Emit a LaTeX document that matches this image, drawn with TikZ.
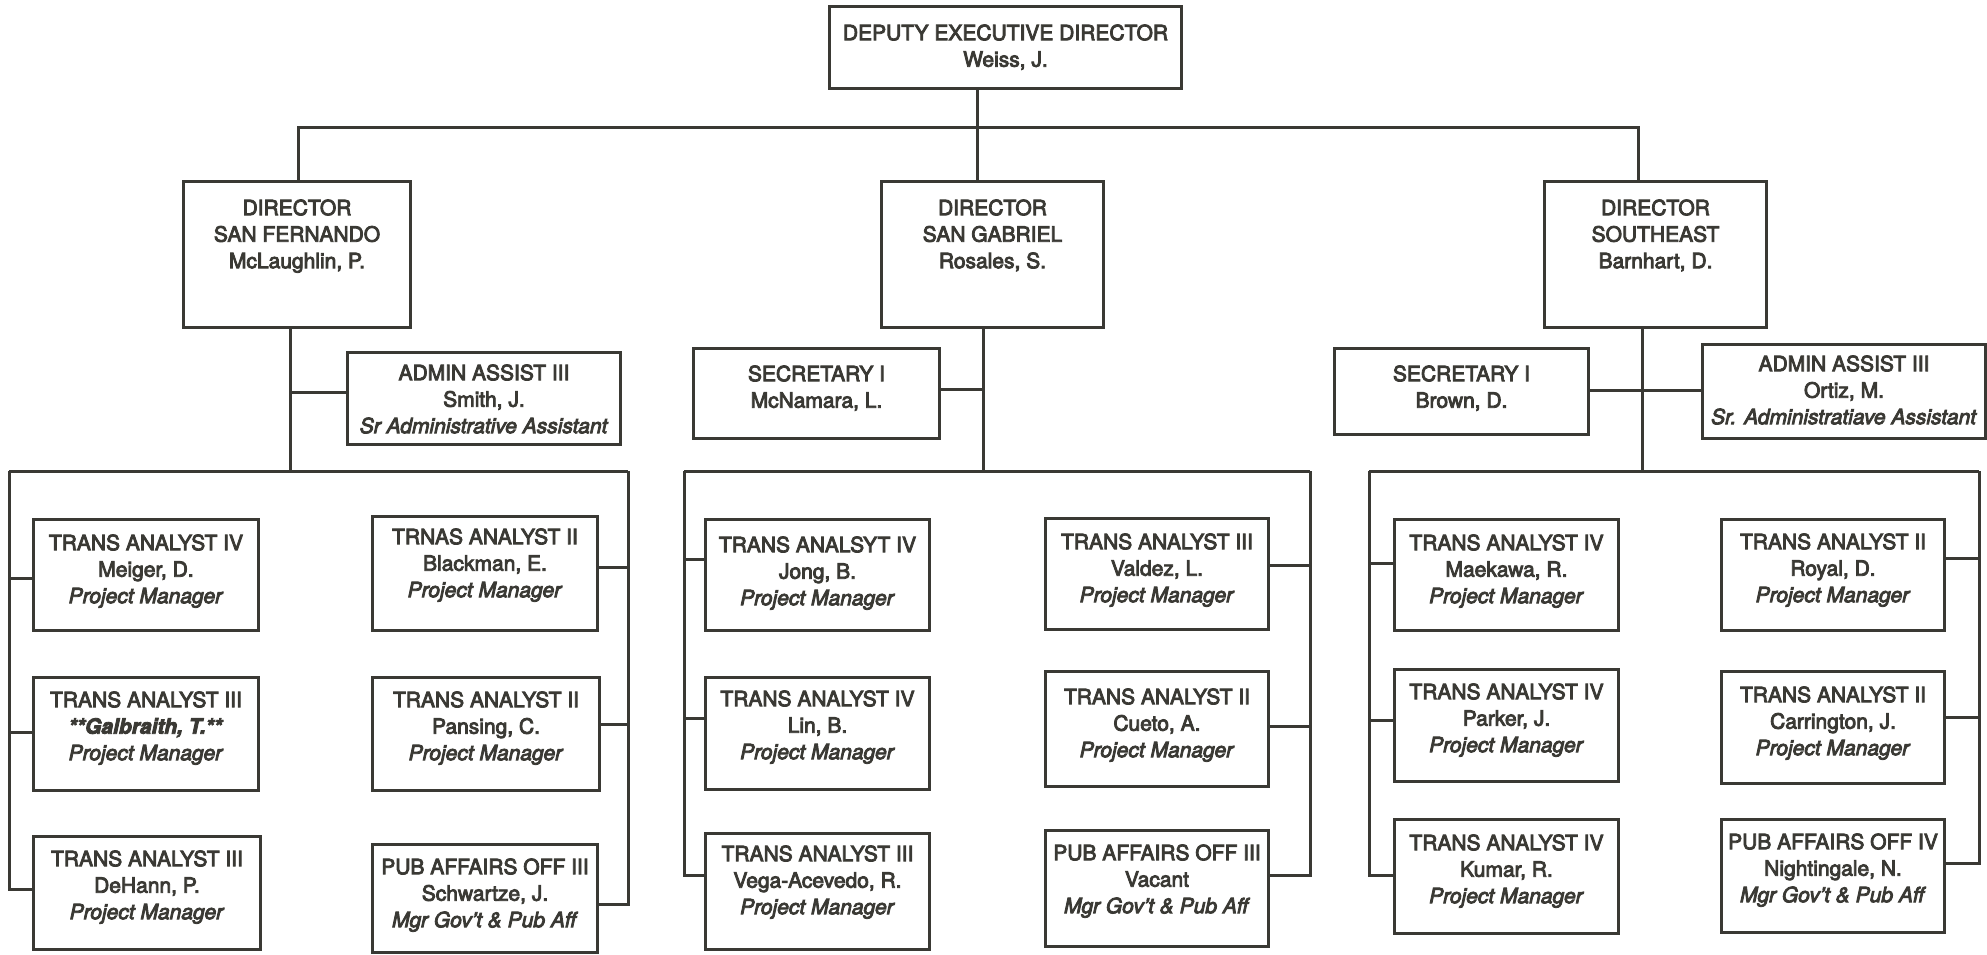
\documentclass[tikz,border=0pt]{standalone}
\usepackage{fontspec}
\setmainfont{TeX Gyre Heros}[FakeBold=4]
\usetikzlibrary{positioning,calc}
\definecolor{ink}{HTML}{3A3934}
\newcommand{\card}[4]{\parbox[c][#2][t]{#1}{\centering\vspace*{#3}#4\par}}
\tikzset{post/.style={draw=ink, line width=3pt, inner sep=0pt, anchor=north west, text=ink, font=\fontsize{21}{26.5}\selectfont},
         wire/.style={draw=ink, line width=3pt}}

\begin{document}
\begin{tikzpicture}[x=1pt,y=-1pt]
\useasboundingbox (0,0) rectangle (1987,954);

\node[post] (dep) at (828,5) {\card{352pt}{82pt}{18pt}{DEPUTY EXECUTIVE DIRECTOR\\Weiss, J.}};

\node[post] (sf) at (182,180) {\card{227pt}{146pt}{18pt}{DIRECTOR\\SAN FERNANDO\\McLaughlin, P.}};
\node[post] (sg) at (880,180) {\card{222pt}{146pt}{18pt}{DIRECTOR\\SAN GABRIEL\\Rosales, S.}};
\node[post] (se) at (1543,180) {\card{222pt}{146pt}{18pt}{DIRECTOR\\SOUTHEAST\\Barnhart, D.}};

\node[post] (smith) at (346,351) {\card{273pt}{92pt}{12pt}{ADMIN ASSIST III\\Smith, J.\\\textit{Sr Administrative Assistant}}};
\node[post] (mcnamara) at (692,347) {\card{246pt}{90pt}{17pt}{SECRETARY I\\McNamara, L.}};
\node[post] (brown) at (1333,347) {\card{254pt}{86pt}{17pt}{SECRETARY I\\Brown, D.}};
\node[post] (ortiz) at (1701,343) {\card{283pt}{94pt}{11pt}{ADMIN ASSIST III\\Ortiz, M.\\\textit{Sr. Administratiave Assistant}}};

% san fernando
\node[post] (meiger) at (32,518) {\card{225pt}{111pt}{15pt}{TRANS ANALYST IV\\Meiger, D.\\\textit{Project Manager}}};
\node[post] (galbraith) at (32,676) {\card{225pt}{113pt}{14pt}{TRANS ANALYST III\\\textbf{\textit{**Galbraith, T.**}}\\\textit{Project Manager}}};
\node[post] (dehann) at (32,835) {\card{227pt}{113pt}{14pt}{TRANS ANALYST III\\DeHann, P.\\\textit{Project Manager}}};
\node[post] (blackman) at (371,515) {\card{225pt}{114pt}{12pt}{TRNAS ANALYST II\\Blackman, E.\\\textit{Project Manager}}};
\node[post] (pansing) at (371,676) {\card{227pt}{113pt}{14pt}{TRANS ANALYST II\\Pansing, C.\\\textit{Project Manager}}};
\node[post] (schwartze) at (371,843) {\card{225pt}{108pt}{14pt}{PUB AFFAIRS OFF III\\Schwartze, J.\\\textit{Mgr Gov't \& Pub Aff}}};

% san gabriel
\node[post] (jong) at (704,518) {\card{224pt}{111pt}{17pt}{TRANS ANALSYT IV\\Jong, B.\\\textit{Project Manager}}};
\node[post] (lin) at (704,676) {\card{224pt}{112pt}{13pt}{TRANS ANALYST IV\\Lin, B.\\\textit{Project Manager}}};
\node[post] (vega) at (704,832) {\card{224pt}{116pt}{12pt}{TRANS ANALYST III\\Vega-Acevedo, R.\\\textit{Project Manager}}};
\node[post] (valdez) at (1044,517) {\card{223pt}{111pt}{15pt}{TRANS ANALYST III\\Valdez, L.\\\textit{Project Manager}}};
\node[post] (cueto) at (1044,670) {\card{223pt}{115pt}{17pt}{TRANS ANALYST II\\Cueto, A.\\\textit{Project Manager}}};
\node[post] (vacant) at (1044,829) {\card{223pt}{116pt}{14pt}{PUB AFFAIRS OFF III\\Vacant\\\textit{Mgr Gov't \& Pub Aff}}};

% southeast
\node[post] (maekawa) at (1393,518) {\card{224pt}{111pt}{15pt}{TRANS ANALYST IV\\Maekawa, R.\\\textit{Project Manager}}};
\node[post] (parker) at (1393,668) {\card{224pt}{112pt}{14pt}{TRANS ANALYST IV\\Parker, J.\\\textit{Project Manager}}};
\node[post] (kumar) at (1393,818) {\card{224pt}{114pt}{15pt}{TRANS ANALYST IV\\Kumar, R.\\\textit{Project Manager}}};
\node[post] (royal) at (1720,518) {\card{223pt}{111pt}{14pt}{TRANS ANALYST II\\Royal, D.\\\textit{Project Manager}}};
\node[post] (carrington) at (1720,670) {\card{223pt}{112pt}{15pt}{TRANS ANALYST II\\Carrington, J.\\\textit{Project Manager}}};
\node[post] (nightingale) at (1720,818) {\card{223pt}{113pt}{14pt}{PUB AFFAIRS OFF IV\\Nightingale, N.\\\textit{Mgr Gov't \& Pub Aff}}};

\coordinate (bus0l) at (298,127);
\coordinate (bus0m) at (977,127);
\coordinate (bus0r) at (1638,127);
\draw[wire] (dep.south -| bus0m) -- (sg.north -| bus0m);
\draw[wire] (sf.north -| bus0l) |- (bus0r) -- (se.north -| bus0r);

\coordinate (sfs) at (290,471);
\coordinate (sfl) at (9,471);
\coordinate (sfr) at (628,471);
\draw[wire] (sf.south -| sfs) -- (sfs);
\draw[wire] ([yshift=6pt]smith.west -| sfs) -- ([yshift=6pt]smith.west);
\draw[wire] (sfl) -- (sfr);
\draw[wire] (sfl) |- ([yshift=3.5pt]dehann.west);
\draw[wire] (sfr) |- ([yshift=-6pt]schwartze.east);
\foreach \n/\d in {meiger/-3.5,galbraith/1.5}
         \draw[wire] ([yshift=\d pt]\n.west -| sfl) -- ([yshift=\d pt]\n.west);
\foreach \n/\d in {blackman/6,pansing/9.5}
         \draw[wire] ([yshift=\d pt]\n.east -| sfr) -- ([yshift=\d pt]\n.east);

\coordinate (sgs) at (983,471);
\coordinate (sgl) at (684,471);
\coordinate (sgr) at (1310,471);
\draw[wire] (sg.south -| sgs) -- (sgs);
\draw[wire] ([yshift=4pt]mcnamara.east) -- ([yshift=4pt]mcnamara.east -| sgs);
\draw[wire] (sgl) -- (sgr);
\draw[wire] (sgl) |- ([yshift=16pt]vega.west);
\draw[wire] (sgr) |- ([yshift=13pt]vacant.east);
\foreach \n/\d in {jong/15.5,lin/15}
         \draw[wire] ([yshift=\d pt]\n.west -| sgl) -- ([yshift=\d pt]\n.west);
\foreach \n/\d in {valdez/8.5,cueto/2.5}
         \draw[wire] ([yshift=\d pt]\n.east -| sgr) -- ([yshift=\d pt]\n.east);

\coordinate (ses) at (1642,471);
\coordinate (sel) at (1369,471);
\coordinate (ser) at (1979,471);
\draw[wire] (se.south -| ses) -- (ses);
\draw[wire] ([yshift=1pt]brown.east) -- ([yshift=1pt]brown.east -| ortiz.west);
\draw[wire] (sel) -- (ser);
\draw[wire] (sel) |- ([yshift=1pt]kumar.west);
\draw[wire] (ser) |- ([yshift=12.5pt]nightingale.east);
\foreach \n/\d in {maekawa/11.5,parker/5}
         \draw[wire] ([yshift=\d pt]\n.west -| sel) -- ([yshift=\d pt]\n.west);
\foreach \n/\d in {royal/16.5,carrington/10}
         \draw[wire] ([yshift=\d pt]\n.east -| ser) -- ([yshift=\d pt]\n.east);
\end{tikzpicture}
\end{document}
